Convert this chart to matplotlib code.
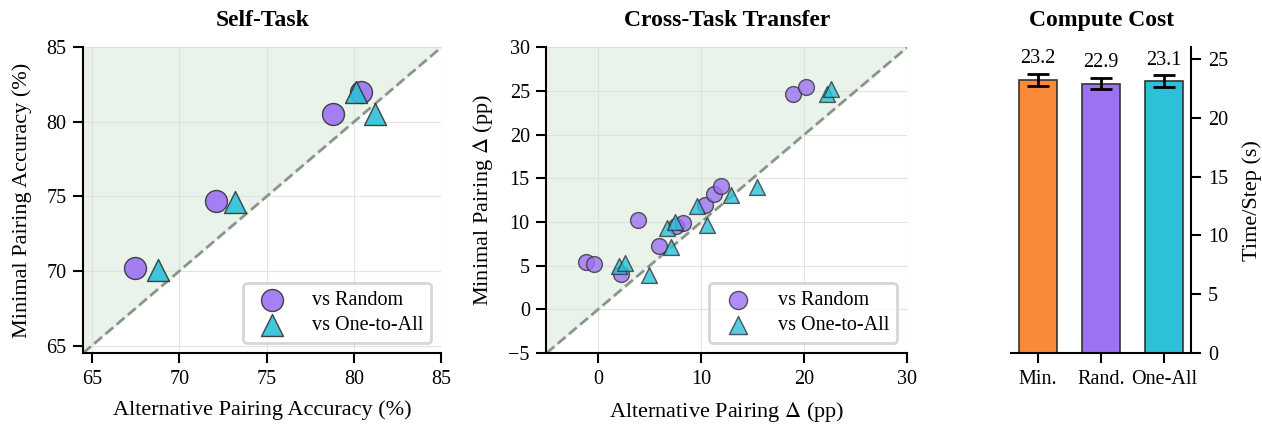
import matplotlib
matplotlib.use('Agg')
import matplotlib.pyplot as plt
import numpy as np

plt.rcParams['font.family'] = ['Liberation Serif', 'DejaVu Serif']
plt.rcParams['mathtext.fontset'] = 'stix'

PURPLE = '#9c72f4'
CYAN = '#2cc0d9'
ORANGE = '#f98a3a'

# Self-Task: (alternative accuracy, minimal accuracy)
self_rand_x = [67.5, 72.1, 78.8, 80.4]
self_rand_y = [70.2, 74.7, 80.5, 82.0]
self_one_x = [68.8, 73.2, 80.1, 81.2]
self_one_y = [70.1, 74.6, 82.0, 80.5]

# Cross-Task Transfer deltas (pp)
cross_rand_x = [-1.2, -0.4, 2.2, 3.9, 5.9, 7.6, 8.2, 10.4, 11.2, 11.9, 18.9, 20.2]
cross_rand_y = [5.4, 5.2, 4.0, 10.2, 7.3, 9.5, 9.9, 11.9, 13.2, 14.1, 24.7, 25.4]
cross_one_x = [2.0, 2.6, 4.9, 6.7, 7.1, 7.5, 9.6, 10.6, 12.9, 15.4, 22.2, 22.6]
cross_one_y = [5.0, 5.3, 3.9, 9.3, 7.1, 10.0, 11.8, 9.7, 13.1, 14.0, 24.7, 25.2]

# Compute cost
cost_labels = ['Min.', 'Rand.', 'One-All']
cost_values = [23.2, 22.9, 23.1]
cost_errors = [0.5, 0.45, 0.5]

TICK_FS = 14.5
LABEL_FS = 16
TITLE_FS = 17
TITLE_PAD = 15


def scatter_panel(ax, rx, ry, ox, oy, lim, ticks, size, leg_size, alpha,
                  title, xlabel, ylabel):
    lo, hi = lim
    ax.fill_between([lo, hi], [lo, hi], [hi, hi], color='#e9f3e9', zorder=0)
    ax.plot([lo, hi], [lo, hi], ls='--', color='#8a968a', lw=2, zorder=1)
    ax.scatter(rx, ry, s=size, marker='o', color=PURPLE, edgecolor='#333333',
               linewidth=1, alpha=alpha, zorder=3, label='vs Random')
    ax.scatter(ox, oy, s=size, marker='^', color=CYAN, edgecolor='#333333',
               linewidth=1, alpha=alpha, zorder=3, label='vs One-to-All')
    ax.set_xlim(lo, hi)
    ax.set_ylim(lo, hi)
    ax.set_xticks(ticks)
    ax.set_yticks(ticks)
    ax.grid(True, color='#dddddd', lw=0.8, alpha=0.8, zorder=0)
    ax.set_axisbelow(True)
    for s in ['top', 'right']:
        ax.spines[s].set_visible(False)
    for s in ['left', 'bottom']:
        ax.spines[s].set_linewidth(1.5)
    ax.tick_params(labelsize=TICK_FS, length=7, width=1.5, pad=5)
    ax.set_title(title, fontsize=TITLE_FS, fontweight='bold', pad=TITLE_PAD)
    ax.set_xlabel(xlabel, fontsize=LABEL_FS, labelpad=8)
    ax.set_ylabel(ylabel, fontsize=LABEL_FS, labelpad=10)
    leg = ax.legend(loc='lower right', fontsize=TICK_FS, frameon=True,
                    fancybox=True, borderpad=0.4, handletextpad=1.0,
                    labelspacing=0.3)
    leg.get_frame().set_edgecolor('#cccccc')
    leg.get_frame().set_linewidth(2)
    for h in leg.legend_handles:
        h.set_sizes([leg_size])
        h.set_alpha(alpha)


fig = plt.figure(figsize=(12.62, 4.25), dpi=100)

ax1 = fig.add_axes([0.0658, 0.169, 0.284, 0.720])
scatter_panel(ax1, self_rand_x, self_rand_y, self_one_x, self_one_y,
              (64.5, 85), [65, 70, 75, 80, 85], 250, 250, 0.9, 'Self-Task',
              'Alternative Pairing Accuracy (%)', 'Minimal Pairing Accuracy (%)')

ax2 = fig.add_axes([0.433, 0.169, 0.286, 0.720])
scatter_panel(ax2, cross_rand_x, cross_rand_y, cross_one_x, cross_one_y,
              (-5, 30), [-5, 0, 5, 10, 15, 20, 25, 30], 130, 170, 0.8,
              'Cross-Task Transfer',
              r'Alternative Pairing $\Delta$ (pp)', r'Minimal Pairing $\Delta$ (pp)')
ax2.set_xticks([0, 10, 20, 30])

ax3 = fig.add_axes([0.801, 0.169, 0.143, 0.720])
pos = np.arange(len(cost_values))
ax3.bar(pos, cost_values, width=0.6, color=[ORANGE, PURPLE, CYAN],
        edgecolor='#333333', linewidth=1.2,
        yerr=cost_errors, capsize=8,
        error_kw=dict(elinewidth=2, capthick=2, ecolor='black'))
for p, v, e in zip(pos, cost_values, cost_errors):
    ax3.text(p, v + e + 0.5, '{:.1f}'.format(v), ha='center', va='bottom',
             fontsize=TICK_FS)
ax3.set_ylim(0, 26)
ax3.set_yticks([0, 5, 10, 15, 20, 25])
ax3.set_xticks(pos)
ax3.set_xticklabels(cost_labels)
ax3.yaxis.tick_right()
ax3.yaxis.set_label_position('right')
ax3.set_ylabel('Time/Step (s)', fontsize=LABEL_FS, labelpad=10)
for s in ['top', 'left']:
    ax3.spines[s].set_visible(False)
for s in ['right', 'bottom']:
    ax3.spines[s].set_linewidth(1.5)
ax3.tick_params(labelsize=TICK_FS, length=7, width=1.5, pad=5)
ax3.set_title('Compute Cost', fontsize=TITLE_FS, fontweight='bold', pad=TITLE_PAD)

plt.savefig('out.png', dpi=100)
